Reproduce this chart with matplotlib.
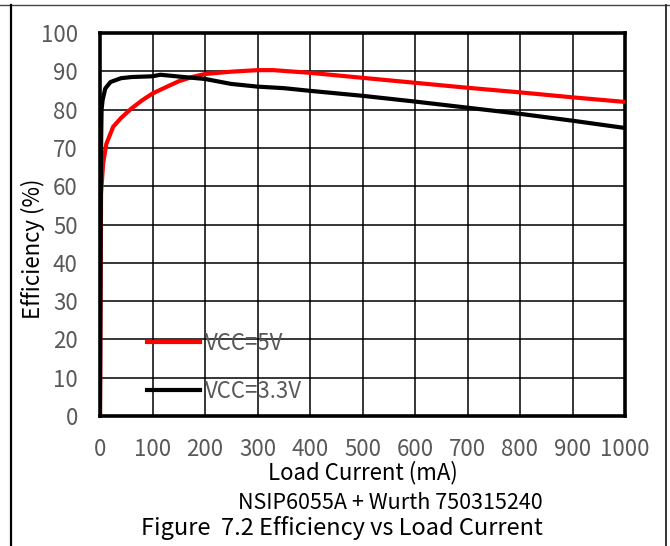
import matplotlib
import matplotlib.pyplot as plt
from matplotlib.lines import Line2D

matplotlib.use('Agg')

plt.rcParams['font.family'] = ['Noto Sans CJK SC', 'DejaVu Sans']

# load current (mA) and efficiency (%)
i_5v = [0, 2, 3, 6, 12, 25, 40, 60, 80, 100, 120, 150, 175, 200, 250, 300, 330,
        400, 500, 600, 700, 800, 900, 1000]
eff_5v = [0, 58, 60, 66, 71, 75.5, 77.8, 80.3, 82.4, 84.2, 85.5, 87.4, 88.5, 89.3,
          89.9, 90.3, 90.3, 89.6, 88.3, 87, 85.7, 84.5, 83.2, 82]

i_33v = [0, 1, 2, 3, 5, 10, 20, 40, 60, 80, 100, 115, 130, 160, 200, 250, 300, 350,
         400, 500, 600, 700, 800, 900, 1000]
eff_33v = [0, 40, 70, 80, 82.5, 85.5, 87.2, 88.2, 88.5, 88.6, 88.7, 89.1, 88.9, 88.5,
           88, 86.7, 86.0, 85.6, 84.9, 83.6, 82.1, 80.5, 78.9, 77.1, 75.2]

x_ticks = list(range(0, 1001, 100))
y_ticks = list(range(0, 101, 10))

gray = '#595959'

fig = plt.figure(figsize=(6.7, 5.46), dpi=100)
ax = fig.add_axes([100 / 670, 1 - 416 / 546, 525 / 670, 383 / 546])

ax.plot(i_5v, eff_5v, color='#ff0000', lw=3, solid_capstyle='butt', zorder=3)
ax.plot(i_33v, eff_33v, color='black', lw=3, solid_capstyle='butt', zorder=3)

ax.set_xlim(0, 1000)
ax.set_ylim(0, 100)
ax.set_xticks(x_ticks)
ax.set_yticks(y_ticks)
ax.grid(True, color='black', lw=1.1)
ax.tick_params(length=0, labelsize=16, labelcolor=gray)
ax.tick_params(axis='x', pad=16)
ax.tick_params(axis='y', pad=16)
for s in ax.spines.values():
    s.set_linewidth(2.6)

handles = [Line2D([], [], color='#ff0000', lw=3),
           Line2D([], [], color='black', lw=3)]
leg = ax.legend(handles, ['VCC=5V', 'VCC=3.3V'], loc='upper left',
                bbox_to_anchor=(0.0895, 0.219), frameon=False, fontsize=16,
                handlelength=2.4, handletextpad=0.2, labelspacing=1.13,
                borderpad=0, borderaxespad=0)
for t in leg.get_texts():
    t.set_color(gray)

fig.text(33 / 670, 1 - 249 / 546, 'Efficiency (%)', rotation=90, fontsize=16,
         ha='center', va='center')
fig.text(363 / 670, 1 - 473 / 546, 'Load Current (mA)', fontsize=16,
         ha='center', va='center')
fig.text(390 / 670, 1 - 503 / 546, 'NSIP6055A + Wurth 750315240', fontsize=15.5,
         ha='center', va='center')
fig.text(342 / 670, 1 - 528 / 546, 'Figure  7.2 Efficiency vs Load Current', fontsize=17,
         ha='center', va='center')

# outer frame of the page snippet
fig.add_artist(Line2D([0, 1], [1 - 5 / 546] * 2, color='#444444', lw=1))
fig.add_artist(Line2D([11 / 670] * 2, [0, 1 - 5 / 546], color='black', lw=1.6))
fig.add_artist(Line2D([666 / 670] * 2, [0, 1 - 5 / 546], color='#333333', lw=1.4))

fig.savefig('out.png', dpi=100)
